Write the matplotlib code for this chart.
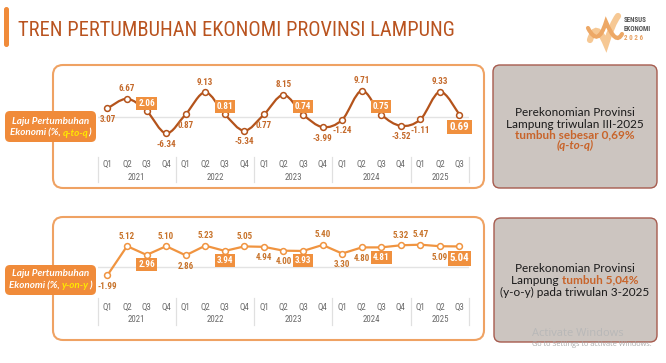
import matplotlib
matplotlib.use("Agg")
import matplotlib.pyplot as plt
from matplotlib.patches import FancyBboxPatch, PathPatch
from matplotlib.path import Path
import numpy as np

# ---------------- data ----------------
quarters = ["Q1", "Q2", "Q3", "Q4"] * 4 + ["Q1", "Q2", "Q3"]
years = ["2021", "2022", "2023", "2024", "2025"]
year_sizes = [4, 4, 4, 4, 3]
qtq = [3.07, 6.67, 2.06, -6.34, 0.87, 9.13, 0.81, -5.34, 0.77, 8.15, 0.74,
       -3.99, -1.24, 9.71, 0.75, -3.52, -1.11, 9.33, 0.69]
yoy = [-1.99, 5.12, 2.96, 5.10, 2.86, 5.23, 3.94, 5.05, 4.94, 4.00, 3.93,
       5.40, 3.30, 4.80, 4.81, 5.32, 5.47, 5.09, 5.04]

# label placement (style)
qtq_place = ["below", "above", "box_above", "below", "below", "above", "box_above", "below",
             "below", "above", "box_above", "below", "below", "above", "box_above", "below",
             "below", "above", "big_below"]
yoy_place = ["below", "above", "box_below", "above", "below", "above", "box_below", "above",
             "below", "below", "box_below", "above", "below", "below", "box_below", "above",
             "above", "below", "big_below"]

# ---------------- style ----------------
W, H = 666, 363
COND = ["Roboto Condensed", "Liberation Sans Narrow", "DejaVu Sans"]
BODY = ["Lato", "DejaVu Sans"]
C_TITLE = "#B9531F"
C_ORANGE = "#F08B3A"
C_PANEL = "#EFA263"
C_TOPLINE = "#B4531B"
C_TOPLBL = "#C4692A"
C_BOTLINE = "#F09440"
C_BOTLBL = "#C8742C"
C_BOX = "#F0903E"
C_GRAY = "#CCC5C0"
C_GRAYEDGE = "#A65B4E"

fig = plt.figure(figsize=(W / 100, H / 100), dpi=100)
bg = fig.add_axes([0, 0, 1, 1])
bg.set_xlim(0, W)
bg.set_ylim(H, 0)
bg.axis("off")
bg.set_zorder(0)
renderer = fig.canvas.get_renderer()


def rbox(x0, y0, x1, y1, r, fc, ec, lw, z=1):
    p = FancyBboxPatch((x0, y0), x1 - x0, y1 - y0,
                       boxstyle=f"round,pad=0,rounding_size={r}",
                       fc=fc, ec=ec, lw=lw, zorder=z, mutation_aspect=1)
    bg.add_patch(p)


def ink_width(s, **kw):
    t = bg.text(0, 0, s, **kw)
    w = t.get_window_extent(renderer).width
    t.remove()
    return w


def adv_width(s, **kw):
    # advance width, including trailing spaces
    return ink_width(s + "x", **kw) - ink_width("x", **kw)


def multitext(xc, y, parts, base):
    """parts: list of (text, props); text may contain trailing spaces"""
    items = []
    total = 0
    for k, (s, props) in enumerate(parts):
        kw = {**base, **props}
        w = adv_width(s, **kw) if k < len(parts) - 1 else ink_width(s, **kw)
        items.append((s, kw, w))
        total += w
    x = xc - total / 2
    for s, kw, w in items:
        bg.text(x, y, s, ha="left", va="center", **kw)
        x += w


# ---------------- title ----------------
rbox(4, 7, 9, 47, 2.5, C_ORANGE, "none", 0, z=2)
title = "TREN PERTUMBUHAN EKONOMI PROVINSI LAMPUNG"
fs = 15.5
w = ink_width(title, fontsize=fs, family=COND)
fs = fs * 435 / w
bg.text(18, 36, title, fontsize=fs, family=COND, color=C_TITLE, ha="left", va="baseline")

# logo
v1 = [(590, 40), (596, 20), (606, 44), (612, 24), (618, 16)]
v2 = [(588, 28), (598, 48), (606, 22), (616, 46), (622, 34)]
for verts, col, lw in [(v1, "#F6C894", 4.5), (v2, "#EDA866", 3.0)]:
    codes = [Path.MOVETO] + [Path.CURVE3] * 4
    pp = PathPatch(Path(verts, codes), fc="none", ec=col, lw=lw, capstyle="round", zorder=2)
    bg.add_patch(pp)
bg.text(624, 20, "SENSUS", fontsize=5, weight="bold", color="#555555", family=COND, va="center")
bg.text(624, 29, "EKONOMI", fontsize=5, weight="bold", color="#555555", family=COND, va="center")
bg.text(624, 38, "2 0 2 6", fontsize=5, weight="bold", color="#E8A060", family=COND, va="center")

# ---------------- panels ----------------
rbox(53, 65, 484, 188, 10, "white", C_PANEL, 1.5)
rbox(53, 217, 484, 340, 10, "white", C_PANEL, 1.5)
rbox(493, 65, 657, 188, 7, C_GRAY, C_GRAYEDGE, 1.0)
rbox(494, 218, 657, 342, 7, C_GRAY, C_GRAYEDGE, 1.0)
rbox(5, 111, 96, 142, 5, C_ORANGE, "none", 0, z=3)
rbox(5, 265, 96, 295, 5, C_ORANGE, "none", 0, z=3)

lab = dict(fontsize=7.1, family=BODY, weight="bold", style="italic", color="white", zorder=4)
for (y1, y2, tag) in [(121, 133, "q-to-q"), (274, 286, "y-on-y")]:
    multitext(50.5, y1, [("Laju Pertumbuhan", {})], lab)
    multitext(50.5, y2, [("Ekonomi (%, ", {}), (tag, {"color": "#FFE800"}), (")", {})], lab)

# gray box texts
body = dict(fontsize=8.5, family=BODY, color="#1A1A1A", zorder=4)
hl = {"color": "#C8642A", "weight": "bold"}
multitext(575, 113, [("Perekonomian Provinsi", {})], body)
multitext(575, 124, [("Lampung triwulan III-2025", {})], body)
multitext(575, 134.5, [("tumbuh sebesar 0,69%", hl)], body)
multitext(575, 145, [("(q-to-q)", {**hl, "style": "italic"})], body)
multitext(575, 268, [("Perekonomian Provinsi", {})], body)
multitext(575, 280, [("Lampung ", {}), ("tumbuh 5,04%", hl)], body)
multitext(575, 292, [("(y-o-y) pada triwulan 3-2025", {})], body)

# watermark
bg.text(532, 333, "Activate Windows", fontsize=8, family=["Open Sans", "DejaVu Sans"],
        color="#B8B8B8", va="center", zorder=5)
bg.text(532, 345, "Go to Settings to activate Windows.", fontsize=5.2,
        family=["Open Sans", "DejaVu Sans"], color="#A8A8A8", va="center", zorder=5)

# ---------------- charts ----------------
x0, x1 = 107.5, 459.5
step = (x1 - x0) / 18
xl, xr = x0 - step / 2, x1 + step / 2
xs = np.arange(len(quarters))


def px_axes(t, b, zero_px, ppu):
    ax = fig.add_axes([xl / W, 1 - b / H, (xr - xl) / W, (b - t) / H])
    ax.set_xlim(-0.5, len(quarters) - 0.5)
    ax.set_ylim(-(b - zero_px) / ppu, (zero_px - t) / ppu)
    ax.axis("off")
    ax.patch.set_visible(False)
    ax.set_zorder(2)
    return ax


def frac(py, t, b):
    return (b - py) / (b - t)


def decorate(ax, t, b, q_px, y_px, sep0, sep1):
    ax.axhline(0, color="#E3E3E3", lw=1.0, zorder=1)
    tr = ax.get_xaxis_transform()
    for i, q in enumerate(quarters):
        ax.text(i, frac(q_px, t, b), q, transform=tr, ha="center", va="center",
                fontsize=6.4, family=COND, color="#6A6A6A")
    start = 0
    bounds = [-0.5]
    for yname, n in zip(years, year_sizes):
        ax.text(start + (n - 1) / 2, frac(y_px, t, b), yname, transform=tr, ha="center",
                va="center", fontsize=6.4, family=COND, color="#6A6A6A")
        start += n
        bounds.append(start - 0.5)
    for bx in bounds:
        ax.plot([bx, bx], [frac(sep0, t, b), frac(sep1, t, b)], transform=tr,
                color="#E0E0E0", lw=0.9, clip_on=False, zorder=1)


def labels(ax, vals, place, col):
    for i, (v, p) in enumerate(zip(vals, place)):
        s = f"{v:.2f}"
        if p in ("above", "below"):
            dy = 10 if p == "above" else -11
            ax.annotate(s, (i, v), xytext=(0, dy), textcoords="offset pixels", ha="center",
                        va="center", fontsize=6.5, weight="bold", family=COND, color=col, zorder=5)
        elif p in ("box_above", "box_below"):
            dy = 8 if p == "box_above" else -10
            ax.annotate(s, (i, v), xytext=(0, dy), textcoords="offset pixels", ha="center",
                        va="center", fontsize=6.6, weight="bold", family=COND, color="white",
                        zorder=5, bbox=dict(boxstyle="square,pad=0.22", fc=C_BOX, ec="none"))
        else:
            ax.annotate(s, (i, v), xytext=(0, -12), textcoords="offset pixels", ha="center",
                        va="center", fontsize=7.8, weight="bold", family=COND, color="white",
                        zorder=5, bbox=dict(boxstyle="square,pad=0.2", fc=C_BOX, ec="none"))


# top chart (smooth spline line)
tt, tb = 68, 155
ax1 = px_axes(tt, tb, 116.5, 2.65)
decorate(ax1, tt, tb, 164, 177, 157, 182)
P = np.column_stack([xs, qtq]).astype(float)
verts = [tuple(P[0])]
codes = [Path.MOVETO]
n = len(P)
for i in range(n - 1):
    p0 = P[max(i - 1, 0)]
    p1 = P[i]
    p2 = P[i + 1]
    p3 = P[min(i + 2, n - 1)]
    c1 = p1 + (p2 - p0) / 6
    c2 = p2 - (p3 - p1) / 6
    verts += [tuple(c1), tuple(c2), tuple(p2)]
    codes += [Path.CURVE4] * 3
ax1.add_patch(PathPatch(Path(verts, codes), fc="none", ec=C_TOPLINE, lw=1.6, zorder=3))
ax1.plot(xs, qtq, "o", ms=4.2, mfc="white", mec=C_TOPLINE, mew=1.1, zorder=4)
labels(ax1, qtq, qtq_place, C_TOPLBL)

# bottom chart
btt, btb = 222, 300
ax2 = px_axes(btt, btb, 267, 4.08)
decorate(ax2, btt, btb, 307, 319, 298, 325)
ax2.plot(xs, yoy, "-", color=C_BOTLINE, lw=1.6, zorder=3)
ax2.plot(xs, yoy, "o", ms=4.2, mfc="white", mec=C_BOTLINE, mew=1.1, zorder=4)
labels(ax2, yoy, yoy_place, C_BOTLBL)

fig.savefig("out.png", dpi=100)
